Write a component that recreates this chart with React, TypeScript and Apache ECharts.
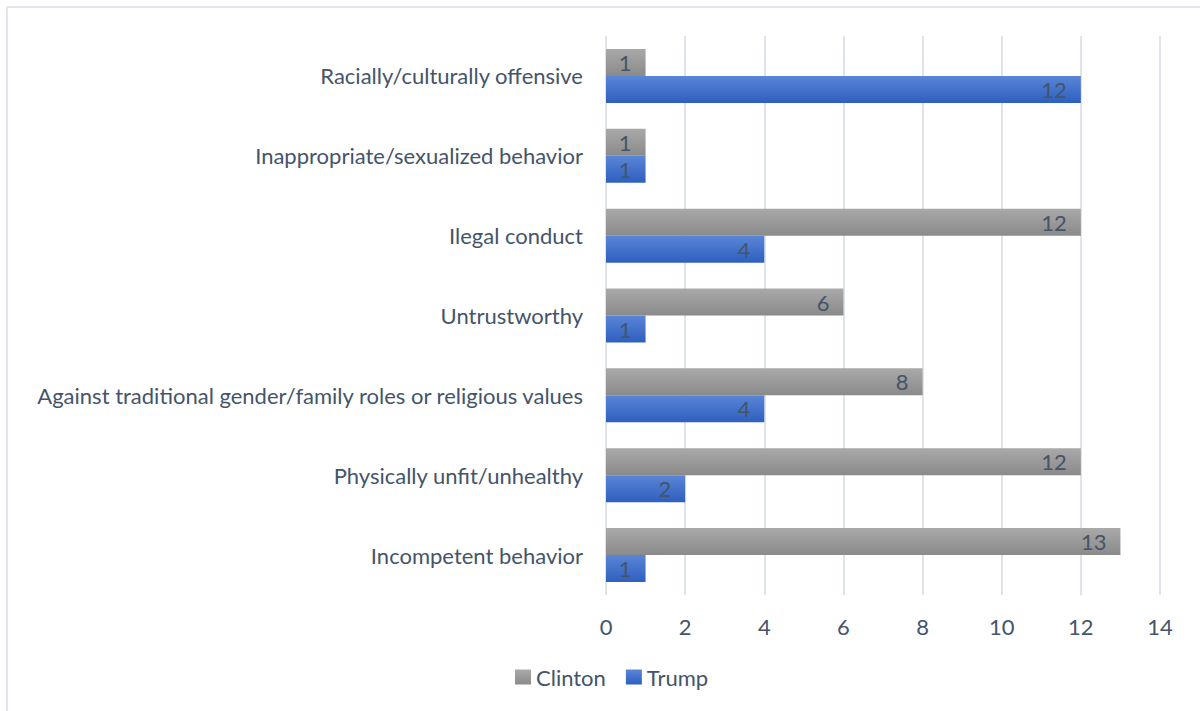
import React, { useEffect, useRef } from "react";
import * as echarts from "echarts";

const categories = [
  "Incompetent behavior",
  "Physically unfit/unhealthy",
  "Against traditional gender/family roles or religious values",
  "Untrustworthy",
  "Ilegal conduct",
  "Inappropriate/sexualized behavior",
  "Racially/culturally offensive",
];
const clinton = [13, 12, 8, 6, 12, 1, 1];
const trump = [1, 2, 4, 1, 4, 1, 12];
const xTicks = { min: 0, max: 14, interval: 2 };

const FONT = "Lato";
const TEXT = "#44546a";

export default function App() {
  const ref = useRef<HTMLDivElement>(null);
  useEffect(() => {
    if (!ref.current) return;
    const chart = echarts.init(ref.current, undefined, { renderer: "svg" });
    const gray = new echarts.graphic.LinearGradient(0, 0, 0, 1, [
      { offset: 0, color: "#a9a9a9" },
      { offset: 1, color: "#8a8a8a" },
    ]);
    const blue = new echarts.graphic.LinearGradient(0, 0, 0, 1, [
      { offset: 0, color: "#5a86d8" },
      { offset: 1, color: "#2e5fbe" },
    ]);
    chart.setOption({
      animation: false,
      textStyle: { fontFamily: FONT },
      graphic: [
        { type: "line", shape: { x1: 7, y1: 7, x2: 1200, y2: 7 }, style: { stroke: "#e3e6ec", lineWidth: 2 } },
        { type: "line", shape: { x1: 7, y1: 7, x2: 7, y2: 711 }, style: { stroke: "#e3e6ec", lineWidth: 2 } },
      ],
      grid: { left: 606, right: 40, top: 36, bottom: 116, containLabel: false },
      legend: {
        data: ["Clinton", "Trump"],
        bottom: 18,
        left: 510,
        itemWidth: 16,
        itemHeight: 15,
        itemGap: 20,
        icon: "rect",
        textStyle: { color: TEXT, fontSize: 22, fontFamily: FONT },
      },
      xAxis: {
        type: "value",
        min: xTicks.min,
        max: xTicks.max,
        interval: xTicks.interval,
        axisLine: { show: false },
        axisTick: { show: false },
        axisLabel: { color: TEXT, fontSize: 22, margin: 20, fontFamily: FONT },
        splitLine: { lineStyle: { color: "#dfe3ea", width: 2 } },
      },
      yAxis: {
        type: "category",
        data: categories,
        axisLine: { show: false },
        axisTick: { show: false },
        axisLabel: { color: TEXT, fontSize: 22, margin: 23, fontFamily: FONT },
      },
      series: [
        {
          name: "Clinton",
          type: "bar",
          data: clinton,
          itemStyle: { color: gray },
          barWidth: 27,
          barGap: "0%",
          label: { show: true, position: "insideRight", distance: 14, color: TEXT, fontSize: 22, fontFamily: FONT },
        },
        {
          name: "Trump",
          type: "bar",
          data: trump,
          itemStyle: { color: blue },
          barWidth: 27,
          barGap: "0%",
          label: { show: true, position: "insideRight", distance: 14, color: TEXT, fontSize: 22, fontFamily: FONT },
        },
      ],
    });
    return () => chart.dispose();
  }, []);
  return (
    <div
      ref={ref}
      style={{ position: "absolute", left: 0, top: 0, width: 1200, height: 711, background: "#fff" }}
    />
  );
}
